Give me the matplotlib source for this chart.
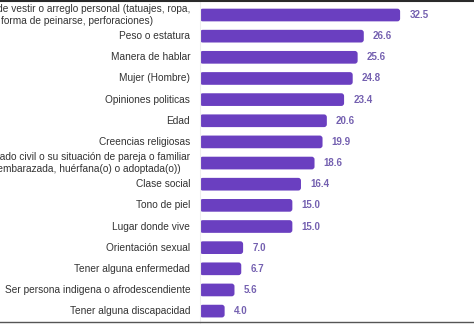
import matplotlib.pyplot as plt
from matplotlib.patches import FancyBboxPatch
from matplotlib.lines import Line2D

plt.rcParams['font.family'] = ['Liberation Sans', 'DejaVu Sans']

categories = [
    "Forma de vestir o arreglo personal (tatuajes, ropa,\nforma de peinarse, perforaciones)",
    "Peso o estatura",
    "Manera de hablar",
    "Mujer (Hombre)",
    "Opiniones politicas",
    "Edad",
    "Creencias religiosas",
    "Estado civil o su situación de pareja o familiar\n(embarazada, huérfana(o) o adoptada(o))",
    "Clase social",
    "Tono de piel",
    "Lugar donde vive",
    "Orientación sexual",
    "Tener alguna enfermedad",
    "Ser persona indigena o afrodescendiente",
    "Tener alguna discapacidad",
]
values = [32.5, 26.6, 25.6, 24.8, 23.4, 20.6, 19.9, 18.6, 16.4, 15.0, 15.0, 7.0, 6.7, 5.6, 4.0]

bar_color = '#6a3fc0'
label_color = '#7460b0'

fig = plt.figure(figsize=(4.74, 3.24), dpi=100)
ax = fig.add_axes([200 / 474, 0, 274 / 474, 1])

pos = list(range(len(values)))
bars = ax.barh(pos, values, height=0.6, color=bar_color)

# rounded ends instead of plain rectangles
for b in bars:
    b.set_visible(False)
    x, y = b.get_x(), b.get_y()
    w, h = b.get_width(), b.get_height()
    r = 0.45
    p = FancyBboxPatch((x + r, y + r * 0.29), w - 2 * r, h - 2 * r * 0.29,
                       boxstyle="round,pad=%g,rounding_size=%g" % (r, r),
                       mutation_aspect=0.29, fc=bar_color, ec='none')
    ax.add_patch(p)

for i, v in enumerate(values):
    ax.text(v + 1.5, i, f"{v:.1f}", va='center', ha='left', fontsize=7,
            color=label_color, fontweight='bold')

for i, c in enumerate(categories):
    ax.text(-1.6, i, c, va='center', ha='right', fontsize=7.3, color='#333333',
            multialignment='center', clip_on=False)

ax.set_xlim(0, 44.5)
ax.set_ylim(14.61, -0.71)
ax.set_xticks([])
ax.set_yticks([])
for s in ['top', 'right', 'bottom']:
    ax.spines[s].set_visible(False)
ax.spines['left'].set_color('#eeeeee')
ax.spines['left'].set_linewidth(0.8)

# frame lines at top and bottom of the screenshot
fig.add_artist(Line2D([0, 1], [0.997, 0.997], color='#2a2a2a', linewidth=1.5,
                      transform=fig.transFigure))
fig.add_artist(Line2D([0, 1], [0.006, 0.006], color='#555555', linewidth=1.0,
                      transform=fig.transFigure))

fig.savefig('out.png', dpi=100)
